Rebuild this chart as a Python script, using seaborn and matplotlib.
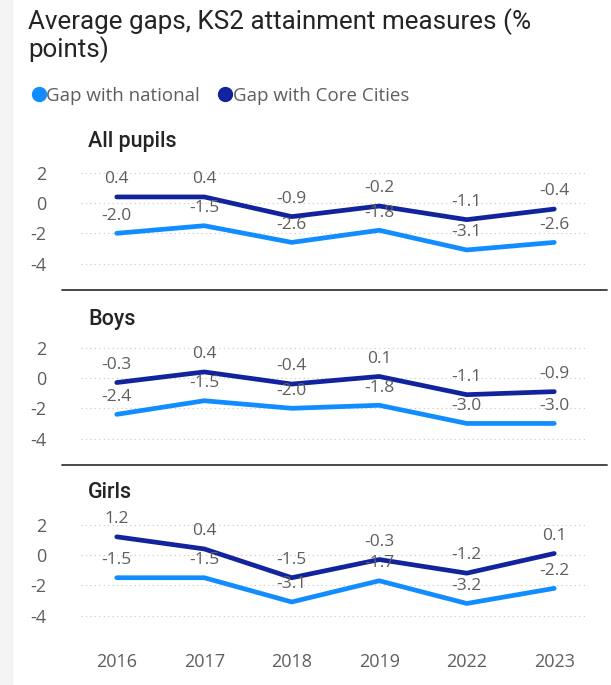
import matplotlib
matplotlib.use("Agg")
import matplotlib.pyplot as plt
from matplotlib.lines import Line2D
import seaborn as sns
import pandas as pd

years = ["2016", "2017", "2018", "2019", "2022", "2023"]
series_names = ["Gap with national", "Gap with Core Cities"]
panels = ["All pupils", "Boys", "Girls"]

all_national = [-2.0, -1.5, -2.6, -1.8, -3.1, -2.6]
all_core = [0.4, 0.4, -0.9, -0.2, -1.1, -0.4]
boys_national = [-2.4, -1.5, -2.0, -1.8, -3.0, -3.0]
boys_core = [-0.3, 0.4, -0.4, 0.1, -1.1, -0.9]
girls_national = [-1.5, -1.5, -3.1, -1.7, -3.2, -2.2]
girls_core = [1.2, 0.4, -1.5, -0.3, -1.2, 0.1]

yticks = [2, 0, -2, -4]

panel_data = {
    "All pupils": (all_national, all_core),
    "Boys": (boys_national, boys_core),
    "Girls": (girls_national, girls_core),
}

colors = {"Gap with national": "#118DFF", "Gap with Core Cities": "#12239E"}
text_gray = "#605E5C"

sns.set_theme(style="white")
plt.rcParams["font.family"] = ["Open Sans", "DejaVu Sans"]

W, H = 611, 685
fig = plt.figure(figsize=(W / 100, H / 100), dpi=100)
fig.patch.set_facecolor("white")

def fx(px):
    return px / W

def fy(py):
    return 1 - py / H

# faint left border of the visual
fig.add_artist(plt.Rectangle((0, 0), fx(12), 1, transform=fig.transFigure,
                             color="#F4F4F4", zorder=0))

fig.text(fx(28), fy(22), "Average gaps, KS2 attainment measures (%",
         fontsize=18.7, family=["Roboto", "DejaVu Sans"], color="#252423", va="center")
fig.text(fx(28), fy(50), "points)",
         fontsize=18.7, family=["Roboto", "DejaVu Sans"], color="#252423", va="center")

handles = [Line2D([], [], marker="o", linestyle="", markersize=10,
                  color=colors[n]) for n in series_names]
fig.legend(handles, series_names, loc="center left",
           bbox_to_anchor=(fx(20), fy(96)), ncol=2, frameon=False,
           handletextpad=-0.2, columnspacing=0.75, handlelength=1.2,
           fontsize=13.5, labelcolor=text_gray, borderaxespad=0)

zero_px = {"All pupils": 203, "Boys": 378, "Girls": 555}
title_px = {"All pupils": 142, "Boys": 320, "Girls": 493}
unit = 15.15
ymin, ymax = -5, 3
xl, xr = 73, 598

for p in panels:
    z = zero_px[p]
    top = z - ymax * unit
    bot = z - ymin * unit
    ax = fig.add_axes([fx(xl), fy(bot), fx(xr) - fx(xl), (bot - top) / H])
    nat, core = panel_data[p]
    df = pd.DataFrame({
        "x": list(range(len(years))) * 2,
        "value": nat + core,
        "series": [series_names[0]] * len(years) + [series_names[1]] * len(years),
    })
    sns.lineplot(data=df, x="x", y="value", hue="series", palette=colors,
                 linewidth=3.4, ax=ax, legend=False)
    for _, r in df.iterrows():
        ax.annotate(f"{r['value']:.1f}", (r["x"], r["value"]),
                    xytext=(0, 7), textcoords="offset points",
                    ha="center", va="bottom", fontsize=12.5, color=text_gray)
    ax.set_xlim(-0.5, len(years) - 0.5)
    ax.set_ylim(ymin, ymax)
    ax.set_yticks(yticks)
    ax.set_yticklabels([str(t) for t in yticks], fontsize=13, color=text_gray)
    ax.tick_params(axis="y", length=0, pad=19)
    ax.set_xticks(range(len(years)))
    if p == "Girls":
        ax.set_xticklabels(years, fontsize=13, color=text_gray)
        ax.tick_params(axis="x", length=0, pad=16)
    else:
        ax.set_xticklabels([])
        ax.tick_params(axis="x", length=0)
    for t in yticks:
        ax.axhline(t, xmin=0.015, xmax=0.975, color="#C8C6C4", lw=0.8,
                   ls=(0, (1, 3)), zorder=0)
    ax.set_xlabel("")
    ax.set_ylabel("")
    for s in ax.spines.values():
        s.set_visible(False)
    ax.patch.set_alpha(0)
    fig.text(fx(88), fy(title_px[p]), p, fontsize=15.5,
             family=["Roboto", "DejaVu Sans"], fontweight="medium",
             color="#252423", va="center")

for ypx in (290, 465):
    fig.add_artist(Line2D([fx(62), fx(607)], [fy(ypx), fy(ypx)],
                          transform=fig.transFigure, color="#3B3A39", lw=1.3))

fig.savefig("out.png", dpi=100)
